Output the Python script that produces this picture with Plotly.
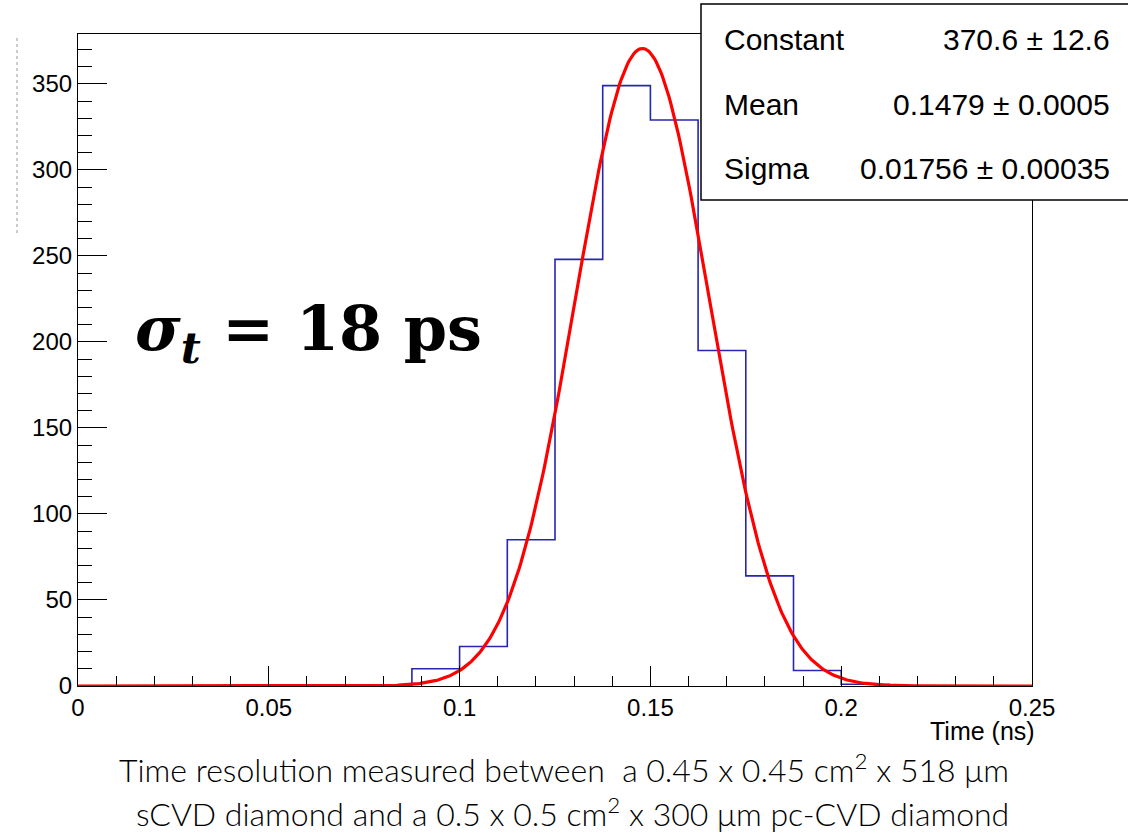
import numpy as np
import plotly.graph_objects as go

# ---- data ----
bin_low_edges = [0.0, 0.0125, 0.025, 0.0375, 0.05, 0.0625, 0.075, 0.0875,
                 0.1, 0.1125, 0.125, 0.1375, 0.15, 0.1625, 0.175, 0.1875,
                 0.2, 0.2125, 0.225, 0.2375]
bin_width = 0.0125
counts = [0, 0, 0, 0, 0, 0, 0, 10,
          23, 85, 248, 349, 329, 195, 64, 9,
          1, 0, 0, 0]

# Gaussian fit parameters (from the stats box)
fit_constant = 370.6
fit_mean = 0.1479
fit_sigma = 0.01756

stats_labels = ["Constant", "Mean", "Sigma"]
stats_values = ["370.6 ± 12.6", "0.1479 ± 0.0005", "0.01756 ± 0.00035"]

x_ticks = [0, 0.05, 0.1, 0.15, 0.2, 0.25]
x_tick_text = ["0", "0.05", "0.1", "0.15", "0.2", "0.25"]
y_ticks = [0, 50, 100, 150, 200, 250, 300, 350]

# ---- figure geometry ----
W, H = 1128, 837
L, R, T, B = 78, 1032, 34, 686


def px_x(p):
    return (p - L) / (R - L)


def px_y(p):
    return (B - p) / (B - T)


# step outline of the histogram
step_x = list(bin_low_edges) + [bin_low_edges[-1] + bin_width]
step_y = list(counts) + [counts[-1]]

# fit curve evaluated from the fit parameters
fx = np.linspace(0.0, 0.25, 600)
fy = fit_constant * np.exp(-0.5 * ((fx - fit_mean) / fit_sigma) ** 2)

fig = go.Figure()
fig.add_trace(go.Scatter(x=step_x, y=step_y, mode="lines", line_shape="hv",
                         line=dict(color="#2626b0", width=1.6),
                         hoverinfo="skip", showlegend=False))
fig.add_trace(go.Scatter(x=fx, y=fy, mode="lines",
                         line=dict(color="#ff0000", width=3.2),
                         hoverinfo="skip", showlegend=False))

axis_font = dict(family="Liberation Sans, Arial, sans-serif", size=24, color="black")

fig.update_xaxes(range=[0, 0.25], tickvals=x_ticks, ticktext=x_tick_text,
                 ticks="inside", ticklen=20, tickcolor="black", tickwidth=1,
                 minor=dict(dtick=0.01, tick0=0, ticks="inside", ticklen=10,
                            tickcolor="black", tickwidth=1),
                 showline=True, linecolor="black", linewidth=1.2, mirror=True,
                 showgrid=False, zeroline=False, tickfont=axis_font)
fig.update_yaxes(range=[0, 379], tickvals=y_ticks,
                 ticks="inside", ticklen=29, tickcolor="black", tickwidth=1,
                 minor=dict(dtick=10, tick0=0, ticks="inside", ticklen=14,
                            tickcolor="black", tickwidth=1),
                 showline=True, linecolor="black", linewidth=1.2, mirror=True,
                 showgrid=False, zeroline=False, tickfont=axis_font)

shapes = []
# stats box
shapes.append(dict(type="rect", xref="paper", yref="paper",
                   x0=px_x(701), x1=px_x(1140), y0=px_y(200), y1=px_y(4),
                   line=dict(color="black", width=1.5), fillcolor="white",
                   layer="above"))
# faint dashed artifact on the left edge
shapes.append(dict(type="line", xref="paper", yref="paper",
                   x0=px_x(17), x1=px_x(17), y0=px_y(38), y1=px_y(236),
                   line=dict(color="#999999", width=1, dash="dot")))

annotations = []
stat_font = dict(family="Liberation Sans, Arial, sans-serif", size=30, color="black")
for i, (lab, val) in enumerate(zip(stats_labels, stats_values)):
    yc = [40, 104, 168][i]
    annotations.append(dict(xref="paper", yref="paper", x=px_x(722), y=px_y(yc),
                            text=lab, showarrow=False, xanchor="left",
                            yanchor="middle", font=stat_font))
    annotations.append(dict(xref="paper", yref="paper", x=px_x(1112), y=px_y(yc),
                            text=val, showarrow=False, xanchor="right",
                            yanchor="middle", font=stat_font))

annotations.append(dict(xref="paper", yref="paper", x=px_x(1037), y=px_y(731),
                        text="Time (ns)", showarrow=False, xanchor="right",
                        yanchor="middle", font=dict(family="Liberation Sans, Arial, sans-serif",
                                                    size=25, color="black")))

annotations.append(dict(xref="paper", yref="paper", x=px_x(133), y=px_y(332),
                        text="<b><i>σ</i><sub><i>t</i></sub> = 18 ps</b>",
                        showarrow=False, xanchor="left", yanchor="middle",
                        font=dict(family="DejaVu Serif, serif", size=62, color="black")))

cap_font = dict(family="Lato, sans-serif", size=32, color="black", weight=300)
annotations.append(dict(xref="paper", yref="paper", x=px_x(564), y=px_y(768),
                        text="Time resolution measured between  a 0.45 x 0.45 cm<sup>2</sup> x 518 μm",
                        showarrow=False, xanchor="center", yanchor="middle", font=cap_font))
annotations.append(dict(xref="paper", yref="paper", x=px_x(572), y=px_y(812),
                        text="sCVD diamond and a 0.5 x 0.5 cm<sup>2</sup> x 300 μm pc-CVD diamond",
                        showarrow=False, xanchor="center", yanchor="middle", font=cap_font))

fig.update_layout(width=W, height=H,
                  margin=dict(l=L, r=W - R, t=T, b=H - B, pad=0),
                  paper_bgcolor="white", plot_bgcolor="white",
                  shapes=shapes, annotations=annotations, showlegend=False)

fig.write_html("out.html")
